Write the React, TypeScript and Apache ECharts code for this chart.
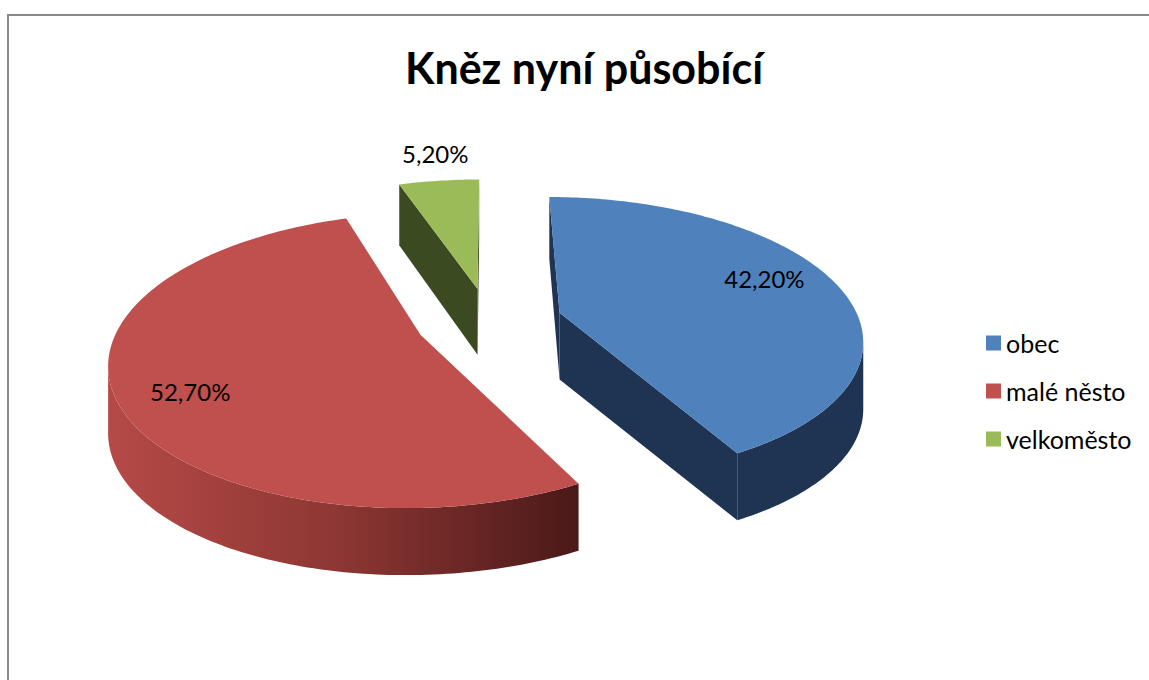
import React, { useEffect, useRef } from "react";
import * as echarts from "echarts";

const titleText = "Kněz nyní působící";
const categories = ["obec", "malé něsto", "velkoměsto"];
const values = [42.2, 52.7, 5.2];
const labelTexts = ["42,20%", "52,70%", "5,20%"];
const topColors = ["#4f81bd", "#c0504d", "#9bbb59"];
const wallColors = ["#1f3452", "#8a3532", "#3c4a21"];

// projection of the tilted disc (perspective)
const CX = 489;
const CY = 321;
const RX = 300;
const RY = 138.3;
const PERSP = 0.172;
const EXPLODE = 0.245;

function proj(a: number, b: number) {
  const w = 1 - PERSP * b;
  return { x: CX + (RX * a) / w, y: CY + (RY * b) / w, w };
}
function depth(w: number) {
  return w <= 1 ? 67 : 67 - 30 * (w - 1);
}

function renderSlice(i: number) {
  const total = values.reduce((s, v) => s + v, 0);
  let ts = 0;
  for (let j = 0; j < i; j++) ts += (values[j] / total) * 360;
  const te = ts + (values[i] / total) * 360;
  const mid = ((ts + te) / 2) * (Math.PI / 180);
  const ao = EXPLODE * Math.sin(mid);
  const bo = -EXPLODE * Math.cos(mid);
  const C = proj(ao, bo);
  const n = Math.max(2, Math.ceil(te - ts));
  const rim: { x: number; y: number; w: number }[] = [];
  for (let k = 0; k <= n; k++) {
    const t = ((ts + ((te - ts) * k) / n) * Math.PI) / 180;
    rim.push(proj(ao + Math.sin(t), bo - Math.cos(t)));
  }
  const bot = (p: { x: number; y: number; w: number }) => [p.x, p.y + depth(p.w)];
  const children: any[] = [];
  const wallFill =
    i === 1
      ? new echarts.graphic.LinearGradient(0, 0, 1, 0, [
          { offset: 0, color: "#b54a47" },
          { offset: 0.5, color: "#8c3633" },
          { offset: 1, color: "#4a1918" },
        ])
      : wallColors[i];
  const R0 = rim[0];
  if (R0.x < C.x) {
    children.push({
      type: "polygon",
      shape: { points: [[C.x, C.y], [R0.x, R0.y], bot(R0), bot(C)] },
      style: { fill: wallColors[i] },
    });
  }
  const Rn = rim[rim.length - 1];
  if (C.x < Rn.x) {
    children.push({
      type: "polygon",
      shape: { points: [[Rn.x, Rn.y], [C.x, C.y], bot(C), bot(Rn)] },
      style: { fill: wallColors[i] },
    });
  }
  let run: number[] = [];
  const flush = () => {
    if (run.length >= 2) {
      const topPts = run.map((k) => [rim[k].x, rim[k].y]);
      const botPts = run.map((k) => bot(rim[k])).reverse();
      children.push({
        type: "polygon",
        shape: { points: topPts.concat(botPts) },
        style: { fill: wallFill },
      });
    }
    run = [];
  };
  for (let k = 0; k < rim.length - 1; k++) {
    if (rim[k + 1].x < rim[k].x) {
      if (run.length === 0) run.push(k);
      run.push(k + 1);
    } else {
      flush();
    }
  }
  flush();
  children.push({
    type: "polygon",
    shape: { points: [[C.x, C.y]].concat(rim.map((p) => [p.x, p.y])) },
    style: { fill: topColors[i] },
  });
  const pct = values[i] / total;
  const r = pct < 0.1 ? 1.27 : 0.75;
  const k = pct < 0.1 ? 1 : 1.3;
  const L = proj(ao + r * Math.sin(mid), bo - r * Math.cos(mid) * k);
  children.push({
    type: "text",
    x: L.x + (pct < 0.1 ? 5 : 0),
    y: L.y - 3,
    style: {
      text: labelTexts[i],
      fill: "#000",
      font: "24px Lato",
      align: "center",
      verticalAlign: "middle",
    },
  });
  return { type: "group", children };
}

export default function App() {
  const ref = useRef<HTMLDivElement>(null);
  useEffect(() => {
    if (!ref.current) return;
    const chart = echarts.init(ref.current, null, { renderer: "svg" });
    const order = [2, 0, 1];
    chart.setOption({
      animation: false,
      backgroundColor: "#ffffff",
      legend: {
        orient: "vertical",
        left: 981,
        top: 325,
        itemWidth: 15,
        itemHeight: 15,
        itemGap: 22,
        icon: "rect",
        selectedMode: false,
        data: categories,
        textStyle: { fontFamily: "Lato", fontSize: 25, color: "#000", lineHeight: 26 },
      },
      graphic: [
        {
          type: "rect",
          shape: { x: 8, y: 15, width: 1160, height: 700 },
          style: { fill: "none", stroke: "#8a8a8a", lineWidth: 2 },
        },
        {
          type: "text",
          x: 584,
          y: 67,
          style: {
            text: titleText,
            font: "bold 43px Lato",
            fill: "#000",
            align: "center",
            verticalAlign: "middle",
          },
        },
      ],
      series: order.map((i) => ({
        type: "custom",
        name: categories[i],
        coordinateSystem: "none",
        itemStyle: { color: topColors[i] },
        data: [[values[i]]],
        renderItem: () => renderSlice(i),
      })),
    });
    return () => chart.dispose();
  }, []);
  return (
    <div
      ref={ref}
      style={{ position: "fixed", left: 0, top: 0, width: 1149, height: 680 }}
    />
  );
}
